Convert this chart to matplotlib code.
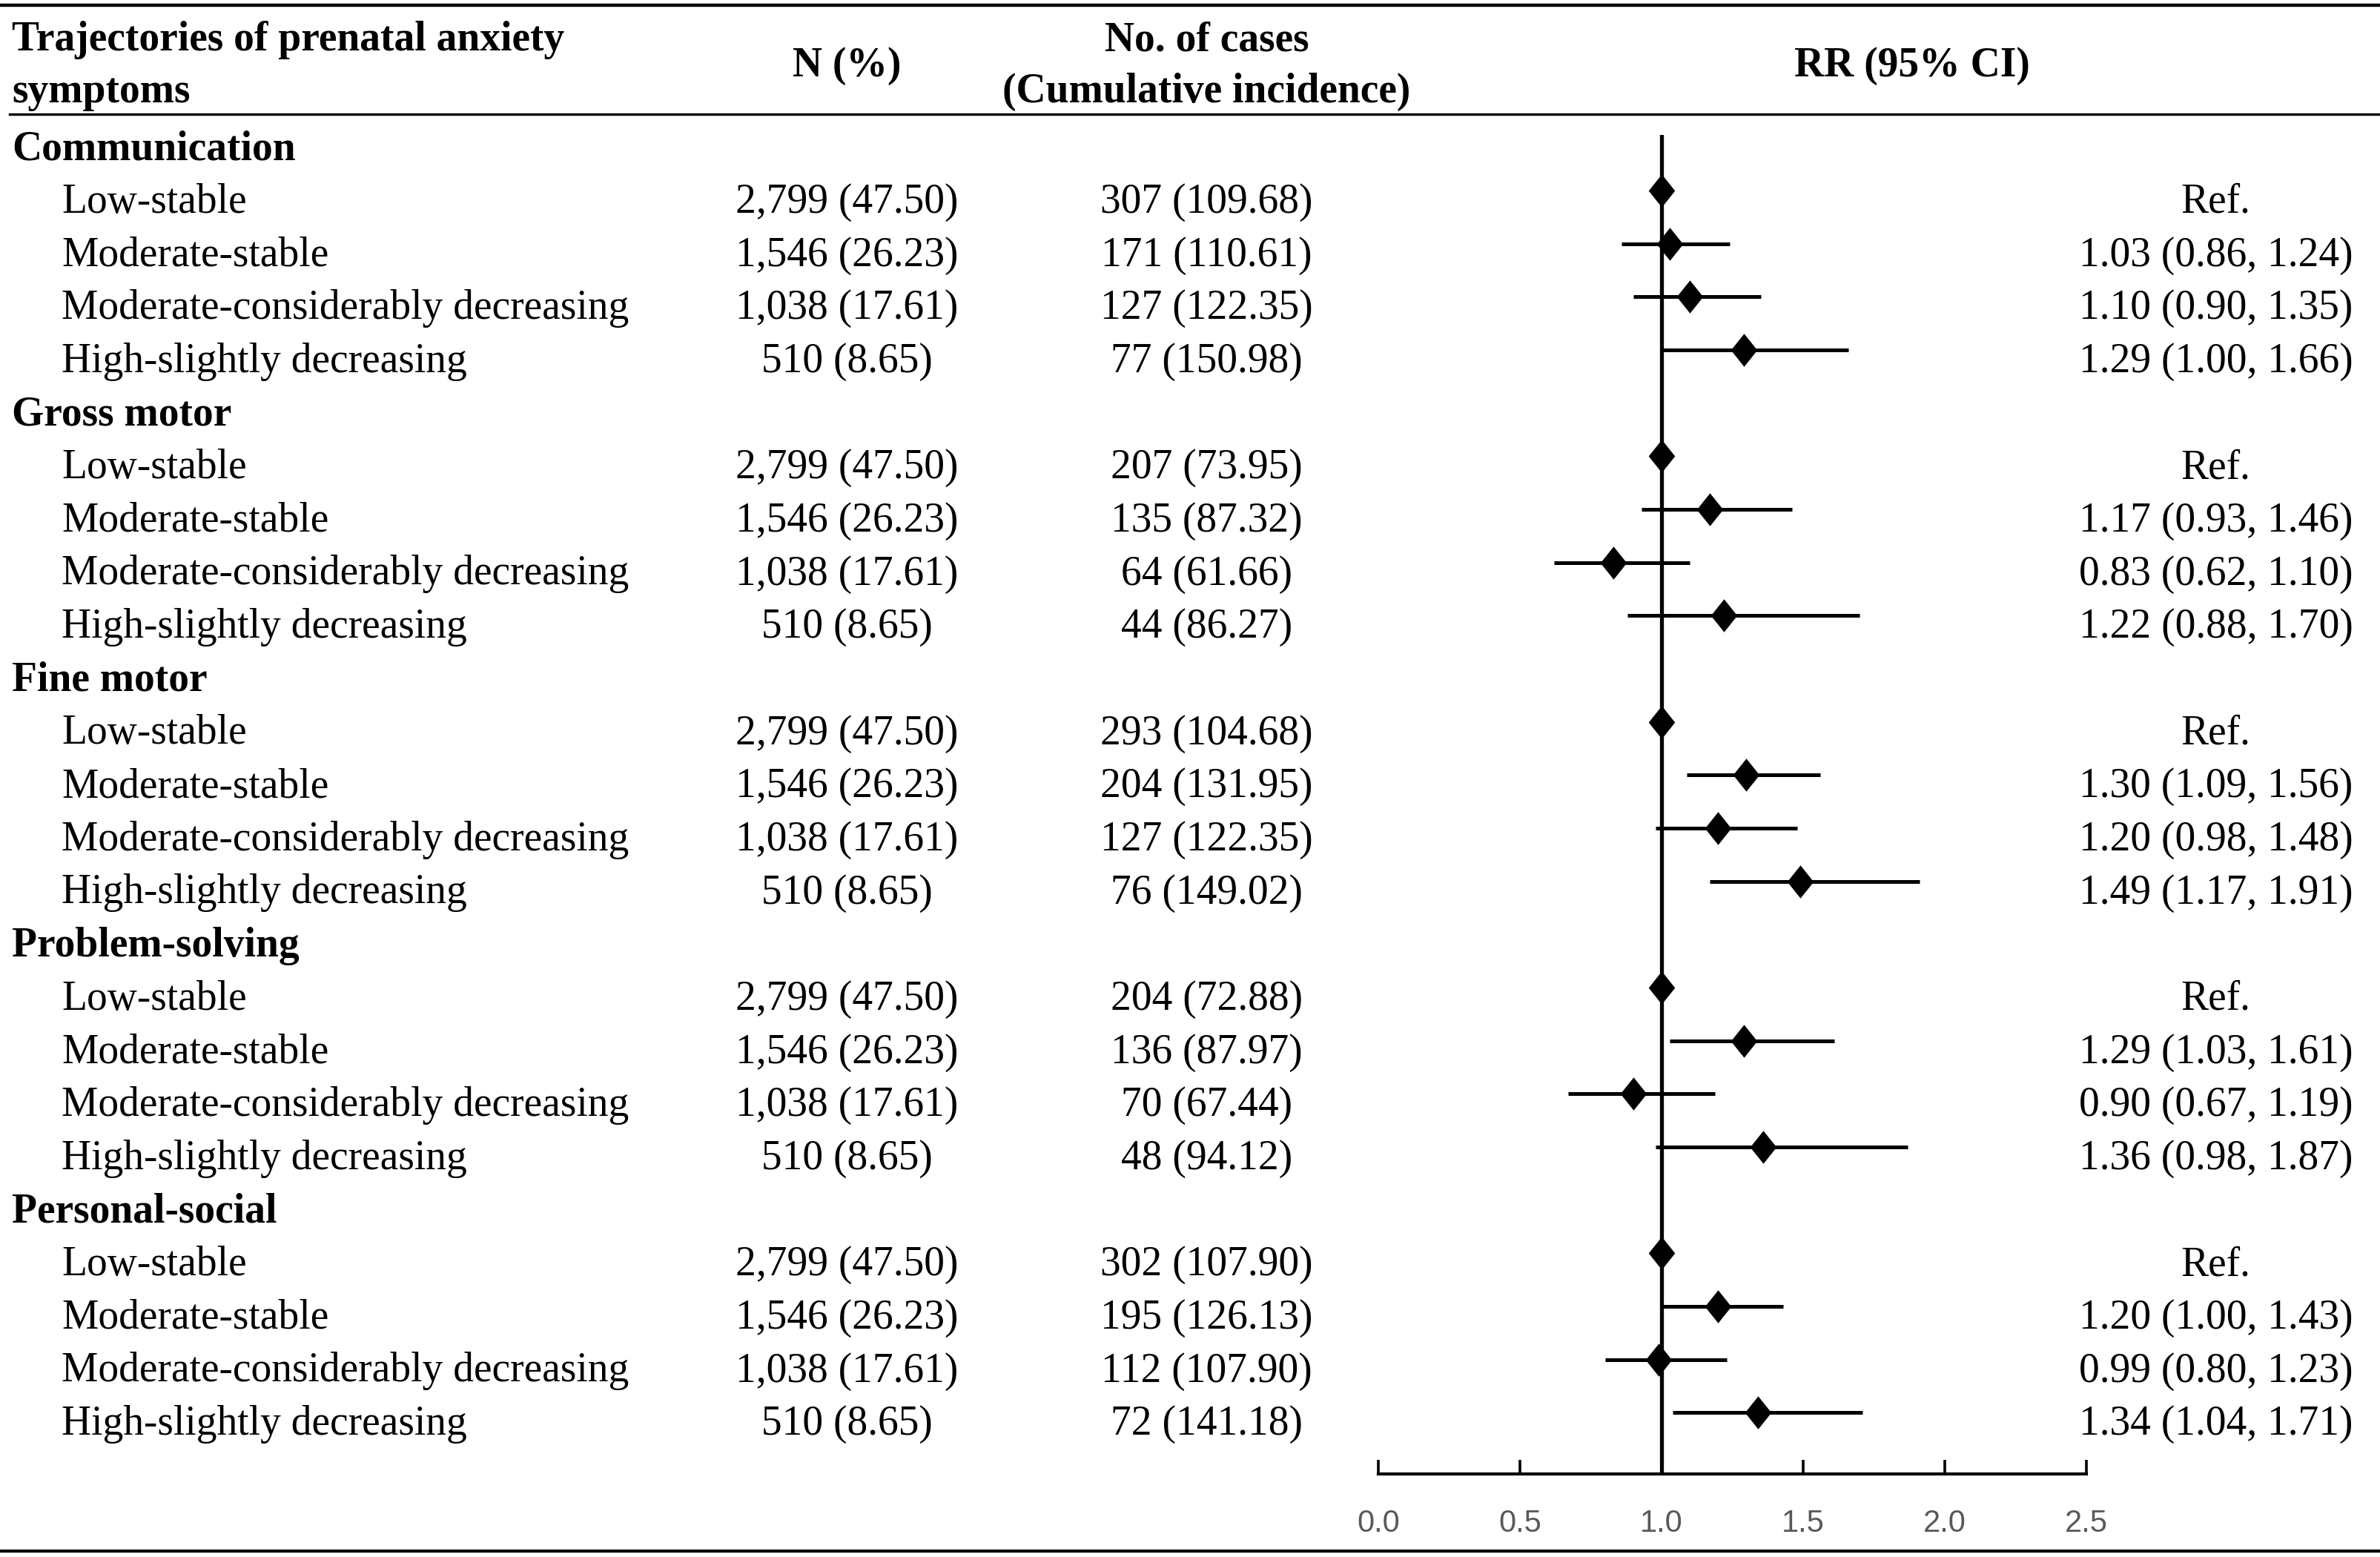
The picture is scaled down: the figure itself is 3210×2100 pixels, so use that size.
import matplotlib
matplotlib.use("Agg")
import matplotlib.pyplot as plt
from matplotlib import transforms
from matplotlib.lines import Line2D

outcomes = ["Communication", "Gross motor", "Fine motor", "Problem-solving", "Personal-social"]
trajectories = ["Low-stable", "Moderate-stable", "Moderate-considerably decreasing", "High-slightly decreasing"]
n_pct = ["2,799 (47.50)", "1,546 (26.23)", "1,038 (17.61)", "510 (8.65)"]

cases = [
    ["307 (109.68)", "171 (110.61)", "127 (122.35)", "77 (150.98)"],
    ["207 (73.95)", "135 (87.32)", "64 (61.66)", "44 (86.27)"],
    ["293 (104.68)", "204 (131.95)", "127 (122.35)", "76 (149.02)"],
    ["204 (72.88)", "136 (87.97)", "70 (67.44)", "48 (94.12)"],
    ["302 (107.90)", "195 (126.13)", "112 (107.90)", "72 (141.18)"],
]
rr = [
    [1.00, 1.03, 1.10, 1.29],
    [1.00, 1.17, 0.83, 1.22],
    [1.00, 1.30, 1.20, 1.49],
    [1.00, 1.29, 0.90, 1.36],
    [1.00, 1.20, 0.99, 1.34],
]
lo = [
    [None, 0.86, 0.90, 1.00],
    [None, 0.93, 0.62, 0.88],
    [None, 1.09, 0.98, 1.17],
    [None, 1.03, 0.67, 0.98],
    [None, 1.00, 0.80, 1.04],
]
hi = [
    [None, 1.24, 1.35, 1.66],
    [None, 1.46, 1.10, 1.70],
    [None, 1.56, 1.48, 1.91],
    [None, 1.61, 1.19, 1.87],
    [None, 1.43, 1.23, 1.71],
]
xticks = [0.0, 0.5, 1.0, 1.5, 2.0, 2.5]

plt.rcParams["font.family"] = ["Liberation Serif", "DejaVu Serif"]
FS = 40

# slightly taller than wide diamond
diamond = [(-0.8, 0), (0, 1), (0.8, 0), (0, -1), (-0.8, 0)]

fig = plt.figure(figsize=(32.1, 21), dpi=100)
ax = fig.add_axes([0.5791, 0.0533, 0.2975, 0.9133 - 0.0533])
ax.set_xlim(0, 2.5)
ax.set_ylim(25.0, -0.2)
for s in ["top", "left", "right"]:
    ax.spines[s].set_visible(False)
ax.spines["bottom"].set_linewidth(3.0)
ax.set_yticks([])
ax.set_xticks(xticks)
ax.set_xticklabels([f"{t:.1f}" for t in xticks], family="Liberation Sans", color="#595959")
ax.tick_params(axis="x", direction="in", length=14, width=2.6, labelsize=30, pad=34)
ax.axvline(1.0, color="black", lw=3.8, zorder=1)

tr = transforms.blended_transform_factory(fig.transFigure, ax.transData)
moff = -0.155
boff = 0.26

r = 0
for g, name in enumerate(outcomes):
    ax.text(0.005, r + boff, name, transform=tr, fontsize=FS, fontweight="bold", va="baseline", ha="left")
    r += 1
    for k, traj in enumerate(trajectories):
        ax.text(0.026, r + boff, traj, transform=tr, fontsize=FS, va="baseline", ha="left")
        ax.text(0.3558, r + boff, n_pct[k], transform=tr, fontsize=FS, va="baseline", ha="center")
        ax.text(0.507, r + boff, cases[g][k], transform=tr, fontsize=FS, va="baseline", ha="center")
        if lo[g][k] is None:
            label = "Ref."
        else:
            label = f"{rr[g][k]:.2f} ({lo[g][k]:.2f}, {hi[g][k]:.2f})"
            ax.plot([lo[g][k], hi[g][k]], [r + moff, r + moff], color="black", lw=3.6, solid_capstyle="butt", zorder=2)
        ax.plot(rr[g][k], r + moff, marker=diamond, ms=32, color="black", mew=0, zorder=3)
        ax.text(0.931, r + boff, label, transform=tr, fontsize=FS, va="baseline", ha="center")
        r += 1

# header
fig.text(0.005, 0.9676, "Trajectories of prenatal anxiety", fontsize=FS, fontweight="bold", va="baseline")
fig.text(0.005, 0.9343, "symptoms", fontsize=FS, fontweight="bold", va="baseline")
fig.text(0.3558, 0.951, "N (%)", fontsize=FS, fontweight="bold", va="baseline", ha="center")
fig.text(0.507, 0.9676, "No. of cases", fontsize=FS, fontweight="bold", va="baseline", ha="center")
fig.text(0.507, 0.9343, "(Cumulative incidence)", fontsize=FS, fontweight="bold", va="baseline", ha="center")
fig.text(0.8035, 0.951, "RR (95% CI)", fontsize=FS, fontweight="bold", va="baseline", ha="center")

fig.add_artist(Line2D([0, 1], [0.9967, 0.9967], color="black", lw=3.2, transform=fig.transFigure))
fig.add_artist(Line2D([0.004, 1], [0.9267, 0.9267], color="black", lw=2.4, transform=fig.transFigure))
fig.add_artist(Line2D([0, 1], [0.0038, 0.0038], color="black", lw=3.0, transform=fig.transFigure))

fig.savefig("out.png", dpi=100)
